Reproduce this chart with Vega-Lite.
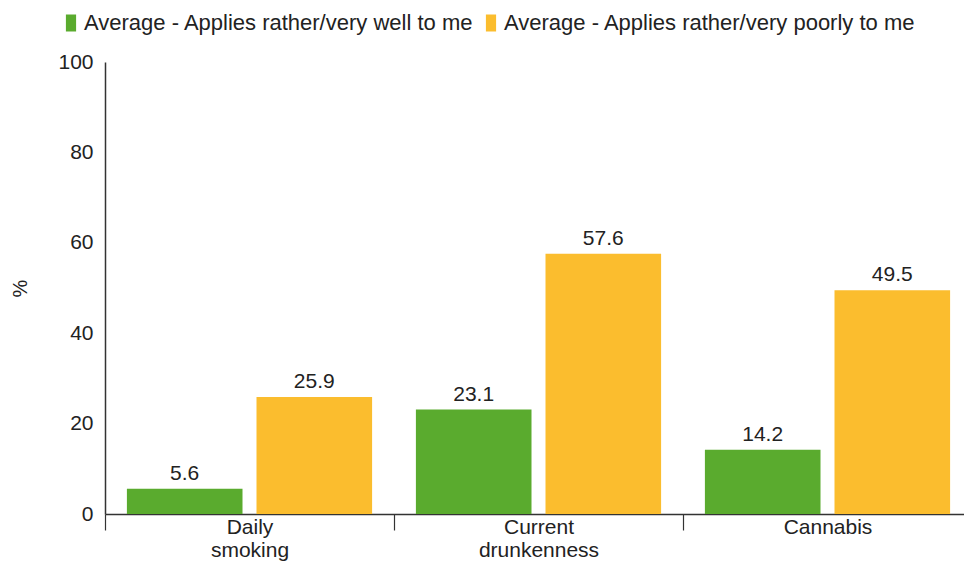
{
  "$schema": "https://vega.github.io/schema/vega-lite/v6.json",
  "autosize": "none",
  "width": 867,
  "height": 452,
  "padding": {"left": 105, "top": 62, "right": 0, "bottom": 48},
  "background": "white",
  "config": {
    "view": {"stroke": null},
    "font": "Liberation Sans",
    "text": {"font": "Liberation Sans"}
  },
  "data": {
    "values": [
      {"cat": "Daily smoking", "group": "Average - Applies rather/very well to me", "value": 5.6},
      {"cat": "Daily smoking", "group": "Average - Applies rather/very poorly to me", "value": 25.9},
      {"cat": "Current drunkenness", "group": "Average - Applies rather/very well to me", "value": 23.1},
      {"cat": "Current drunkenness", "group": "Average - Applies rather/very poorly to me", "value": 57.6},
      {"cat": "Cannabis", "group": "Average - Applies rather/very well to me", "value": 14.2},
      {"cat": "Cannabis", "group": "Average - Applies rather/very poorly to me", "value": 49.5}
    ]
  },
  "encoding": {
    "x": {
      "field": "cat", "type": "nominal",
      "sort": ["Daily smoking", "Current drunkenness", "Cannabis"],
      "scale": {"paddingInner": 0, "paddingOuter": 0},
      "axis": {
        "title": null, "labelAngle": 0, "labelFontSize": 21, "labelColor": "#222",
        "labelExpr": "datum.value == null ? '' : (datum.value == 'Cannabis' ? 'Cannabis' : split(datum.value, ' '))",
        "labelLineHeight": 23, "labelPadding": -14, "labelBaseline": "top",
        "tickBand": "extent", "tickSize": 16, "tickColor": "#333", "domainColor": "#333", "domainWidth": 1.5, "tickWidth": 1.2
      }
    },
    "xOffset": {
      "field": "group", "type": "nominal",
      "sort": ["Average - Applies rather/very well to me", "Average - Applies rather/very poorly to me"],
      "scale": {"paddingInner": 0.108, "paddingOuter": 0.169}
    },
    "y": {
      "field": "value", "type": "quantitative",
      "scale": {"domain": [0, 100]},
      "axis": {
        "title": "%", "titleFontSize": 20, "titleFontWeight": "normal", "titleColor": "#222", "titlePadding": 27,
        "values": [0, 20, 40, 60, 80, 100], "grid": false, "ticks": false,
        "labelFontSize": 21, "labelColor": "#222", "labelPadding": 12,
        "domainColor": "#333", "domainWidth": 1.5
      }
    }
  },
  "layer": [
    {
      "mark": {"type": "bar"},
      "encoding": {
        "color": {
          "field": "group", "type": "nominal",
          "sort": ["Average - Applies rather/very well to me", "Average - Applies rather/very poorly to me"],
          "scale": {"range": ["#5aab2e", "#fbbd2e"]},
          "legend": {
            "title": null, "orient": "none", "direction": "horizontal",
            "legendX": -45, "legendY": -50,
            "labelFontSize": 22, "labelColor": "#222", "labelLimit": 0,
            "symbolType": "M-0.6,-1H0.6V1H-0.6Z", "symbolSize": 289,
            "symbolStrokeWidth": 0, "columnPadding": 6, "labelOffset": 2
          }
        }
      }
    },
    {
      "mark": {"type": "text", "baseline": "alphabetic", "dy": -9, "fontSize": 21, "color": "#222"},
      "encoding": {
        "text": {"field": "value", "type": "quantitative", "format": ".1f"}
      }
    }
  ]
}
